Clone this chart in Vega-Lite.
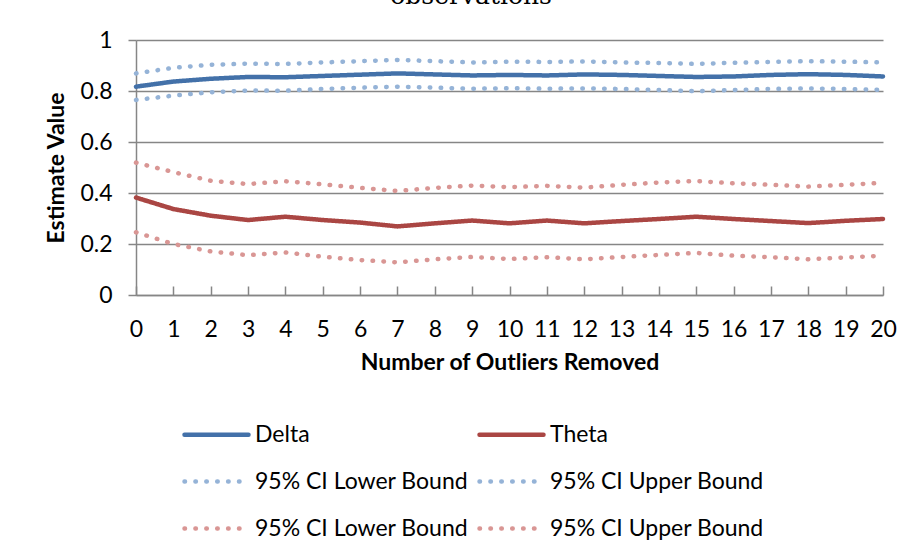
{
  "$schema": "https://vega.github.io/schema/vega-lite/v6.json",
  "width": 747,
  "height": 255,
  "autosize": {"type": "none"},
  "padding": {"left": 136, "top": 40, "right": 30, "bottom": 259},
  "background": "white",
  "title": {"text": "observations", "font": "DejaVu Serif", "fontSize": 25, "fontWeight": "normal", "color": "#000000", "anchor": "middle", "frame": "bounds", "offset": 0, "baseline": "alphabetic"},
  "data": {"values": [
    {"n":0,"s":"Delta","v":0.817},{"n":1,"s":"Delta","v":0.837},{"n":2,"s":"Delta","v":0.848},{"n":3,"s":"Delta","v":0.855},{"n":4,"s":"Delta","v":0.854},{"n":5,"s":"Delta","v":0.859},{"n":6,"s":"Delta","v":0.864},{"n":7,"s":"Delta","v":0.869},{"n":8,"s":"Delta","v":0.865},{"n":9,"s":"Delta","v":0.861},{"n":10,"s":"Delta","v":0.863},{"n":11,"s":"Delta","v":0.861},{"n":12,"s":"Delta","v":0.865},{"n":13,"s":"Delta","v":0.863},{"n":14,"s":"Delta","v":0.859},{"n":15,"s":"Delta","v":0.855},{"n":16,"s":"Delta","v":0.857},{"n":17,"s":"Delta","v":0.863},{"n":18,"s":"Delta","v":0.866},{"n":19,"s":"Delta","v":0.863},{"n":20,"s":"Delta","v":0.857},
    {"n":0,"s":"Theta","v":0.382},{"n":1,"s":"Theta","v":0.337},{"n":2,"s":"Theta","v":0.311},{"n":3,"s":"Theta","v":0.294},{"n":4,"s":"Theta","v":0.307},{"n":5,"s":"Theta","v":0.294},{"n":6,"s":"Theta","v":0.284},{"n":7,"s":"Theta","v":0.269},{"n":8,"s":"Theta","v":0.281},{"n":9,"s":"Theta","v":0.292},{"n":10,"s":"Theta","v":0.281},{"n":11,"s":"Theta","v":0.292},{"n":12,"s":"Theta","v":0.281},{"n":13,"s":"Theta","v":0.290},{"n":14,"s":"Theta","v":0.298},{"n":15,"s":"Theta","v":0.307},{"n":16,"s":"Theta","v":0.298},{"n":17,"s":"Theta","v":0.290},{"n":18,"s":"Theta","v":0.282},{"n":19,"s":"Theta","v":0.291},{"n":20,"s":"Theta","v":0.298},
    {"n":0,"s":"95% CI Lower Bound","v":0.765},{"n":1,"s":"95% CI Lower Bound","v":0.782},{"n":2,"s":"95% CI Lower Bound","v":0.795},{"n":3,"s":"95% CI Lower Bound","v":0.802},{"n":4,"s":"95% CI Lower Bound","v":0.801},{"n":5,"s":"95% CI Lower Bound","v":0.808},{"n":6,"s":"95% CI Lower Bound","v":0.813},{"n":7,"s":"95% CI Lower Bound","v":0.817},{"n":8,"s":"95% CI Lower Bound","v":0.813},{"n":9,"s":"95% CI Lower Bound","v":0.809},{"n":10,"s":"95% CI Lower Bound","v":0.811},{"n":11,"s":"95% CI Lower Bound","v":0.809},{"n":12,"s":"95% CI Lower Bound","v":0.810},{"n":13,"s":"95% CI Lower Bound","v":0.808},{"n":14,"s":"95% CI Lower Bound","v":0.804},{"n":15,"s":"95% CI Lower Bound","v":0.799},{"n":16,"s":"95% CI Lower Bound","v":0.804},{"n":17,"s":"95% CI Lower Bound","v":0.808},{"n":18,"s":"95% CI Lower Bound","v":0.810},{"n":19,"s":"95% CI Lower Bound","v":0.808},{"n":20,"s":"95% CI Lower Bound","v":0.804},
    {"n":0,"s":"95% CI Upper Bound","v":0.869},{"n":1,"s":"95% CI Upper Bound","v":0.891},{"n":2,"s":"95% CI Upper Bound","v":0.903},{"n":3,"s":"95% CI Upper Bound","v":0.907},{"n":4,"s":"95% CI Upper Bound","v":0.906},{"n":5,"s":"95% CI Upper Bound","v":0.912},{"n":6,"s":"95% CI Upper Bound","v":0.917},{"n":7,"s":"95% CI Upper Bound","v":0.922},{"n":8,"s":"95% CI Upper Bound","v":0.917},{"n":9,"s":"95% CI Upper Bound","v":0.912},{"n":10,"s":"95% CI Upper Bound","v":0.915},{"n":11,"s":"95% CI Upper Bound","v":0.914},{"n":12,"s":"95% CI Upper Bound","v":0.916},{"n":13,"s":"95% CI Upper Bound","v":0.912},{"n":14,"s":"95% CI Upper Bound","v":0.910},{"n":15,"s":"95% CI Upper Bound","v":0.906},{"n":16,"s":"95% CI Upper Bound","v":0.911},{"n":17,"s":"95% CI Upper Bound","v":0.914},{"n":18,"s":"95% CI Upper Bound","v":0.917},{"n":19,"s":"95% CI Upper Bound","v":0.915},{"n":20,"s":"95% CI Upper Bound","v":0.912},
    {"n":0,"s":"95% CI Lower Bound ","v":0.246},{"n":1,"s":"95% CI Lower Bound ","v":0.200},{"n":2,"s":"95% CI Lower Bound ","v":0.171},{"n":3,"s":"95% CI Lower Bound ","v":0.156},{"n":4,"s":"95% CI Lower Bound ","v":0.167},{"n":5,"s":"95% CI Lower Bound ","v":0.150},{"n":6,"s":"95% CI Lower Bound ","v":0.137},{"n":7,"s":"95% CI Lower Bound ","v":0.128},{"n":8,"s":"95% CI Lower Bound ","v":0.140},{"n":9,"s":"95% CI Lower Bound ","v":0.149},{"n":10,"s":"95% CI Lower Bound ","v":0.141},{"n":11,"s":"95% CI Lower Bound ","v":0.148},{"n":12,"s":"95% CI Lower Bound ","v":0.140},{"n":13,"s":"95% CI Lower Bound ","v":0.149},{"n":14,"s":"95% CI Lower Bound ","v":0.157},{"n":15,"s":"95% CI Lower Bound ","v":0.165},{"n":16,"s":"95% CI Lower Bound ","v":0.154},{"n":17,"s":"95% CI Lower Bound ","v":0.148},{"n":18,"s":"95% CI Lower Bound ","v":0.140},{"n":19,"s":"95% CI Lower Bound ","v":0.147},{"n":20,"s":"95% CI Lower Bound ","v":0.154},
    {"n":0,"s":"95% CI Upper Bound ","v":0.519},{"n":1,"s":"95% CI Upper Bound ","v":0.482},{"n":2,"s":"95% CI Upper Bound ","v":0.448},{"n":3,"s":"95% CI Upper Bound ","v":0.435},{"n":4,"s":"95% CI Upper Bound ","v":0.446},{"n":5,"s":"95% CI Upper Bound ","v":0.434},{"n":6,"s":"95% CI Upper Bound ","v":0.420},{"n":7,"s":"95% CI Upper Bound ","v":0.408},{"n":8,"s":"95% CI Upper Bound ","v":0.420},{"n":9,"s":"95% CI Upper Bound ","v":0.429},{"n":10,"s":"95% CI Upper Bound ","v":0.423},{"n":11,"s":"95% CI Upper Bound ","v":0.428},{"n":12,"s":"95% CI Upper Bound ","v":0.421},{"n":13,"s":"95% CI Upper Bound ","v":0.432},{"n":14,"s":"95% CI Upper Bound ","v":0.441},{"n":15,"s":"95% CI Upper Bound ","v":0.447},{"n":16,"s":"95% CI Upper Bound ","v":0.438},{"n":17,"s":"95% CI Upper Bound ","v":0.432},{"n":18,"s":"95% CI Upper Bound ","v":0.425},{"n":19,"s":"95% CI Upper Bound ","v":0.432},{"n":20,"s":"95% CI Upper Bound ","v":0.440}
  ]},
  "mark": {"type": "line", "strokeWidth": 4.5, "strokeCap": "round", "strokeJoin": "round"},
  "encoding": {
    "x": {
      "field": "n", "type": "quantitative",
      "scale": {"domain": [0, 20], "nice": false, "zero": false},
      "axis": {
        "values": [0,1,2,3,4,5,6,7,8,9,10,11,12,13,14,15,16,17,18,19,20],
        "title": "Number of Outliers Removed",
        "grid": false, "tickSize": -9, "labelPadding": 32, "labelFlush": false,
        "domainColor": "#868686", "tickColor": "#868686", "domainWidth": 1.5, "tickWidth": 1.5,
        "labelFont": "Lato", "labelFontSize": 23, "labelColor": "#000000",
        "titleFont": "Lato", "titleFontSize": 23, "titleFontWeight": "bold", "titleColor": "#000000", "titlePadding": 10
      }
    },
    "y": {
      "field": "v", "type": "quantitative",
      "scale": {"domain": [0, 1], "nice": false},
      "axis": {
        "values": [0, 0.2, 0.4, 0.6, 0.8, 1], "format": "~g",
        "title": "Estimate Value",
        "grid": true, "gridColor": "#868686", "gridWidth": 1.5,
        "tickSize": 8, "labelPadding": 16,
        "domainColor": "#868686", "tickColor": "#868686", "domainWidth": 1.5, "tickWidth": 1.5,
        "labelFont": "Lato", "labelFontSize": 23, "labelColor": "#000000",
        "titleFont": "Lato", "titleFontSize": 23, "titleFontWeight": "bold", "titleColor": "#000000", "titlePadding": 11
      }
    },
    "color": {
      "field": "s", "type": "nominal",
      "scale": {
        "domain": ["Delta", "Theta", "95% CI Lower Bound", "95% CI Upper Bound", "95% CI Lower Bound ", "95% CI Upper Bound "],
        "range": ["#4371A9", "#AA4643", "#95B3D7", "#95B3D7", "#D99694", "#D99694"]
      },
      "legend": {
        "orient": "none", "legendX": 46, "legendY": 360, "columns": 2, "direction": "horizontal", "title": null,
        "symbolType": "stroke", "symbolSize": 4096, "symbolStrokeWidth": 4.5,
        "labelFont": "Lato", "labelFontSize": 23, "labelColor": "#000000", "labelOffset": 4,
        "rowPadding": -18, "columnPadding": 1, "labelLimit": 400,
        "encoding": {"symbols": {"strokeCap": {"value": "round"}}}
      }
    },
    "strokeDash": {
      "field": "s", "type": "nominal",
      "scale": {
        "domain": ["Delta", "Theta", "95% CI Lower Bound", "95% CI Upper Bound", "95% CI Lower Bound ", "95% CI Upper Bound "],
        "range": [[1, 0], [1, 0], [0.5, 10.4], [0.5, 10.4], [0.5, 10.4], [0.5, 10.4]]
      },
      "legend": {
        "orient": "none", "legendX": 46, "legendY": 360, "columns": 2, "direction": "horizontal", "title": null,
        "symbolType": "stroke", "symbolSize": 4096, "symbolStrokeWidth": 4.5,
        "labelFont": "Lato", "labelFontSize": 23, "labelColor": "#000000", "labelOffset": 4,
        "rowPadding": -18, "columnPadding": 1, "labelLimit": 400,
        "encoding": {"symbols": {"strokeCap": {"value": "round"}}}
      }
    }
  },
  "config": {"view": {"stroke": null}}
}
